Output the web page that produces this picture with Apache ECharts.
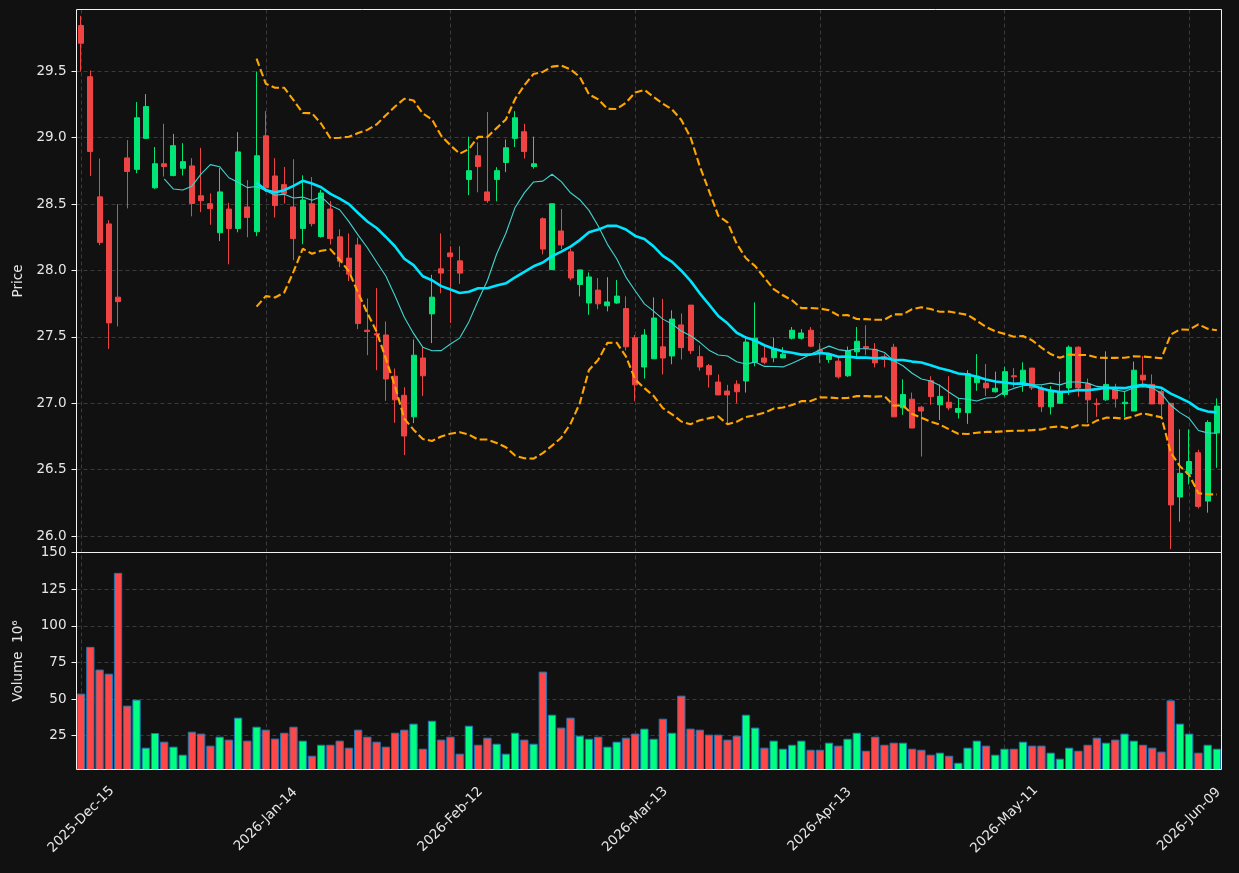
<!DOCTYPE html>
<html>
<head>
<meta charset="utf-8">
<title>Price / Volume</title>
<script src="https://cdn.jsdelivr.net/npm/echarts@6/dist/echarts.min.js"></script>
<style>
  html, body { margin: 0; padding: 0; background: #111111; }
  #chart { width: 1239px; height: 873px; }
</style>
</head>
<body>
<div id="chart"></div>
<script>
// daily ohlc (one entry per trading day)
var opens = [
  29.843, 29.458, 28.554, 28.350, 27.799, 28.847, 28.761, 28.994, 28.622, 28.803,
  28.714, 28.769, 28.787, 28.562, 28.502, 28.284, 28.462, 28.316, 28.478, 28.292,
  29.013, 28.711, 28.646, 28.478, 28.316, 28.502, 28.255, 28.462, 28.253, 28.093,
  28.192, 27.550, 27.524, 27.514, 27.204, 27.060, 26.898, 27.341, 27.673, 28.012,
  28.132, 28.072, 28.685, 28.863, 28.591, 28.685, 28.813, 28.994, 29.044, 28.782,
  28.389, 28.006, 28.297, 28.140, 27.894, 27.755, 27.852, 27.734, 27.755, 27.713,
  27.493, 27.273, 27.335, 27.425, 27.356, 27.590, 27.739, 27.351, 27.283, 27.160,
  27.092, 27.144, 27.168, 27.309, 27.341, 27.343, 27.341, 27.490, 27.490, 27.550,
  27.401, 27.330, 27.317, 27.207, 27.388, 27.427, 27.406, 27.351, 27.422, 26.966,
  27.031, 26.971, 27.170, 26.989, 27.008, 26.932, 26.929, 27.155, 27.152, 27.087,
  27.066, 27.207, 27.157, 27.265, 27.116, 26.974, 27.000, 27.116, 27.422, 27.147,
  27.000, 27.026, 27.110, 26.997, 26.942, 27.212, 27.142, 27.089, 27.000, 26.295,
  26.468, 26.628, 26.264, 26.777
];
var closes = [
  29.710, 28.895, 28.211, 27.605, 27.765, 28.745, 29.149, 29.233, 28.803, 28.782,
  28.939, 28.819, 28.504, 28.525, 28.465, 28.591, 28.316, 28.892, 28.399, 28.863,
  28.622, 28.488, 28.580, 28.240, 28.530, 28.352, 28.583, 28.240, 28.069, 27.972,
  27.600, 27.540, 27.514, 27.183, 27.026, 26.754, 27.362, 27.207, 27.799, 27.980,
  28.103, 27.980, 28.751, 28.782, 28.525, 28.751, 28.923, 29.149, 28.895, 28.803,
  28.161, 28.502, 28.192, 27.943, 28.004, 27.951, 27.749, 27.763, 27.807, 27.425,
  27.139, 27.514, 27.642, 27.341, 27.634, 27.419, 27.396, 27.273, 27.215, 27.063,
  27.063, 27.087, 27.461, 27.490, 27.309, 27.409, 27.370, 27.550, 27.529, 27.430,
  27.385, 27.370, 27.199, 27.396, 27.467, 27.414, 27.304, 27.330, 26.898, 27.066,
  26.814, 26.942, 27.050, 27.052, 26.966, 26.961, 27.223, 27.204, 27.116, 27.113,
  27.238, 27.199, 27.249, 27.116, 26.974, 27.089, 27.089, 27.422, 27.116, 27.026,
  26.992, 27.142, 27.034, 27.008, 27.249, 27.176, 26.995, 26.995, 26.235, 26.473,
  26.562, 26.224, 26.856, 26.979
];
var lows = [
  29.497, 28.711, 28.190, 27.409, 27.579, 28.467, 28.732, 28.994, 28.614, 28.706,
  28.709, 28.714, 28.407, 28.439, 28.344, 28.221, 28.046, 28.287, 28.250, 28.258,
  28.590, 28.399, 28.504, 28.077, 28.198, 28.331, 28.247, 28.195, 28.025, 27.920,
  27.558, 27.362, 27.249, 27.018, 26.853, 26.610, 26.851, 27.055, 27.453, 27.828,
  27.605, 27.899, 28.567, 28.588, 28.509, 28.520, 28.740, 28.929, 28.842, 28.766,
  28.122, 28.006, 28.161, 27.925, 27.805, 27.666, 27.708, 27.692, 27.749, 27.396,
  27.016, 27.186, 27.335, 27.217, 27.294, 27.330, 27.370, 27.246, 27.118, 27.063,
  26.851, 27.000, 27.081, 27.278, 27.294, 27.309, 27.341, 27.480, 27.480, 27.422,
  27.304, 27.304, 27.186, 27.199, 27.335, 27.362, 27.270, 27.270, 26.898, 26.914,
  26.814, 26.599, 26.989, 26.874, 26.948, 26.885, 26.845, 27.094, 27.055, 27.081,
  27.050, 27.121, 27.087, 27.100, 26.934, 26.916, 27.000, 27.063, 27.050, 26.853,
  26.898, 27.018, 26.968, 26.898, 26.942, 27.147, 26.995, 26.898, 25.902, 26.109,
  26.389, 26.209, 26.177, 26.515
];
var highs = [
  29.917, 29.505, 28.842, 28.378, 28.499, 28.981, 29.267, 29.327, 28.929, 29.104,
  29.028, 28.958, 28.845, 28.923, 28.580, 28.771, 28.509, 29.041, 28.680, 29.497,
  29.199, 28.845, 28.779, 28.837, 28.716, 28.703, 28.606, 28.523, 28.310, 28.279,
  28.247, 27.789, 27.867, 27.616, 27.262, 27.121, 27.480, 27.427, 27.967, 28.279,
  28.182, 28.182, 29.007, 28.963, 29.193, 28.777, 28.986, 29.199, 29.104, 29.007,
  28.399, 28.502, 28.462, 28.166, 28.004, 27.985, 27.943, 27.949, 27.928, 27.805,
  27.514, 27.558, 27.797, 27.786, 27.700, 27.676, 27.739, 27.435, 27.296, 27.217,
  27.139, 27.173, 27.490, 27.760, 27.435, 27.495, 27.422, 27.574, 27.558, 27.574,
  27.453, 27.370, 27.343, 27.427, 27.574, 27.587, 27.453, 27.370, 27.448, 27.181,
  27.081, 26.980, 27.204, 27.142, 27.204, 27.042, 27.249, 27.370, 27.296, 27.238,
  27.275, 27.265, 27.309, 27.265, 27.134, 27.129, 27.238, 27.435, 27.430, 27.186,
  27.037, 27.391, 27.147, 27.089, 27.314, 27.356, 27.217, 27.121, 27.000, 26.804,
  26.804, 26.651, 26.872, 27.037
];
// volume, millions of shares
var volumes = [
  53.7, 85.6, 70.1, 67.3, 136.1, 45.5, 49.6, 16.8, 26.8, 20.9,
  17.5, 12.0, 27.7, 26.4, 18.2, 24.3, 22.3, 37.3, 21.6, 31.1,
  29.1, 23.0, 27.0, 31.1, 21.6, 11.3, 18.8, 18.8, 21.6, 16.8,
  29.1, 24.3, 20.9, 17.5, 27.0, 29.1, 33.2, 16.1, 35.2, 22.3,
  24.3, 12.7, 31.8, 18.8, 23.6, 19.5, 12.7, 27.0, 22.3, 19.5,
  68.7, 39.3, 30.5, 37.3, 25.0, 22.9, 24.3, 17.5, 20.9, 23.6,
  26.4, 29.8, 22.9, 36.6, 27.0, 52.3, 29.8, 29.1, 25.7, 25.7,
  22.3, 25.0, 39.3, 30.5, 16.8, 21.6, 16.1, 18.8, 21.6, 15.4,
  15.4, 20.2, 18.2, 22.9, 27.0, 14.7, 24.3, 18.8, 20.2, 20.2,
  16.1, 15.4, 12.0, 13.4, 11.3, 6.5, 16.8, 21.6, 18.2, 12.0,
  16.1, 16.1, 20.9, 18.2, 18.2, 13.4, 9.3, 16.8, 14.7, 18.8,
  23.6, 20.2, 22.3, 26.4, 21.6, 18.8, 16.8, 14.1, 49.1, 33.2,
  26.4, 13.4, 18.8, 16.1
];

var priceTicks = [26.0, 26.5, 27.0, 27.5, 28.0, 28.5, 29.0, 29.5];
var volumeTicks = [25, 50, 75, 100, 125, 150];

// market holidays inside the window
var holidays = ['2025-12-25', '2026-01-01', '2026-01-19', '2026-02-16', '2026-04-03', '2026-05-25'];
var MONTHS = ['Jan', 'Feb', 'Mar', 'Apr', 'May', 'Jun', 'Jul', 'Aug', 'Sep', 'Oct', 'Nov', 'Dec'];

var UP = '#00e676', DOWN = '#ef4444';
var UP_VOL = '#00ff80', DOWN_VOL = '#ff4747';
var TEXT = '#e6e6e6', FRAME = '#f2f2f2', GRID = '#3a3a3a';
var FONT = 'DejaVu Sans';

function pad2(n) {
  return n < 10 ? '0' + n : '' + n;
}

// weekdays from start, skipping holidays
function tradingDays(start, count) {
  let d = new Date(start + 'T00:00:00Z');
  let out = [];
  while (out.length < count) {
    let iso = d.getUTCFullYear() + '-' + pad2(d.getUTCMonth() + 1) + '-' + pad2(d.getUTCDate());
    let wd = d.getUTCDay();
    if (wd !== 0 && wd !== 6 && holidays.indexOf(iso) < 0) {
      out.push(d.getUTCFullYear() + '-' + MONTHS[d.getUTCMonth()] + '-' + pad2(d.getUTCDate()));
    }
    d.setUTCDate(d.getUTCDate() + 1);
  }
  return out;
}

var dates = tradingDays('2025-12-15', closes.length);

// rolling mean / std of the closes
function rolling(arr, n, fn) {
  return arr.map((v, i) => {
    if (i < n - 1) return null;
    return fn(arr.slice(i - n + 1, i + 1));
  });
}
function _sum(w) {
  return w.reduce((a, b) => a + b, 0);
}
function mean(w) {
  return _sum(w) / w.length;
}
function std(w) {
  let m = mean(w);
  return Math.sqrt(_sum(w.map(v => (v - m) * (v - m))) / w.length);
}

var ma10 = rolling(closes, 10, mean);
var ma20 = rolling(closes, 20, mean);
var bbUpper = rolling(closes, 20, w => mean(w) + 2 * std(w));
var bbLower = rolling(closes, 20, w => mean(w) - 2 * std(w));

var candles = opens.map((o, i) => [o, closes[i], lows[i], highs[i]]);
var volBars = volumes.map((v, i) => ({
  value: v,
  itemStyle: { color: closes[i] >= opens[i] ? UP_VOL : DOWN_VOL }
}));

var every20 = (idx) => idx % 20 === 0;
var vLines = dates.filter((d, i) => every20(i)).map(d => ({ xAxis: d }));

// vertical grid lines, kept under the marks
var gridMark = {
  silent: true,
  z: 1,
  symbol: ['none', 'none'],
  label: { show: false },
  lineStyle: { color: GRID, type: [4, 3], width: 1 },
  data: vLines
};

var chart = echarts.init(document.getElementById('chart'));
var option = {
  backgroundColor: '#111111',
  animation: false,
  textStyle: { fontFamily: FONT },
  // frames on top so the split line at 150 does not break the separator
  grid: [
    { left: 76.5, top: 9.5, width: 1145, height: 543, show: true, z: 10, borderColor: FRAME, borderWidth: 1 },
    { left: 76.5, top: 552.5, width: 1145, height: 217, show: true, z: 10, borderColor: FRAME, borderWidth: 1 }
  ],
  xAxis: [
    {
      type: 'category', gridIndex: 0, data: dates, boundaryGap: true,
      axisLine: { show: false }, axisTick: { show: false }, axisLabel: { show: false },
      splitLine: { show: false }
    },
    {
      type: 'category', gridIndex: 1, data: dates, boundaryGap: true,
      axisLine: { show: false },
      axisTick: { interval: (i) => every20(i), alignWithLabel: true, length: 5, lineStyle: { color: FRAME } },
      axisLabel: {
        interval: (i) => every20(i), rotate: 45, align: 'center', verticalAlign: 'middle',
        margin: 50, color: TEXT, fontSize: 13.5, fontFamily: FONT
      },
      splitLine: { show: false }
    }
  ],
  yAxis: [
    {
      type: 'value', gridIndex: 0, min: 25.877, max: 29.964,
      name: 'Price', nameLocation: 'middle', nameGap: 51, nameRotate: 90,
      nameTextStyle: { color: TEXT, fontSize: 13.5, fontFamily: FONT },
      axisLine: { show: false },
      axisTick: { show: true, customValues: priceTicks, length: 5, lineStyle: { color: FRAME } },
      axisLabel: { customValues: priceTicks, color: TEXT, fontSize: 13.5, margin: 10, formatter: v => v.toFixed(1) },
      splitLine: { show: true, lineStyle: { color: GRID, type: [4, 3] } }
    },
    {
      type: 'value', gridIndex: 1, min: 1.9, max: 150,
      name: 'Volume  10\u2076', nameLocation: 'middle', nameGap: 51, nameRotate: 90,
      nameTextStyle: { color: TEXT, fontSize: 13.5, fontFamily: FONT },
      axisLine: { show: false },
      axisTick: { show: true, customValues: volumeTicks, length: 5, lineStyle: { color: FRAME } },
      axisLabel: { customValues: volumeTicks, color: TEXT, fontSize: 13.5, margin: 10 },
      splitLine: { show: true, lineStyle: { color: GRID, type: [4, 3] } }
    }
  ],
  series: [
    {
      name: 'OHLC', type: 'candlestick', xAxisIndex: 0, yAxisIndex: 0,
      data: candles, barWidth: 5.5, z: 2,
      itemStyle: { color: UP, color0: DOWN, borderColor: UP, borderColor0: DOWN, borderWidth: 1 },
      markLine: gridMark
    },
    {
      name: 'MA10', type: 'line', xAxisIndex: 0, yAxisIndex: 0, data: ma10, z: 3,
      showSymbol: false, lineStyle: { color: '#40d4d0', width: 1.1 }
    },
    {
      name: 'MA20', type: 'line', xAxisIndex: 0, yAxisIndex: 0, data: ma20, z: 3,
      showSymbol: false, lineStyle: { color: '#00e5ff', width: 2.6 }
    },
    {
      name: 'BB upper', type: 'line', xAxisIndex: 0, yAxisIndex: 0, data: bbUpper, z: 3,
      showSymbol: false, lineStyle: { color: '#ffa500', width: 2.1, type: [7.7, 3.3] }
    },
    {
      name: 'BB lower', type: 'line', xAxisIndex: 0, yAxisIndex: 0, data: bbLower, z: 3,
      showSymbol: false, lineStyle: { color: '#ffa500', width: 2.1, type: [7.7, 3.3] }
    },
    {
      name: 'Volume', type: 'bar', xAxisIndex: 1, yAxisIndex: 1, data: volBars,
      barWidth: '90%', z: 2,
      itemStyle: { borderColor: '#1f77b4', borderWidth: 1 },
      markLine: gridMark
    }
  ]
};
chart.setOption(option);
</script>
</body>
</html>
